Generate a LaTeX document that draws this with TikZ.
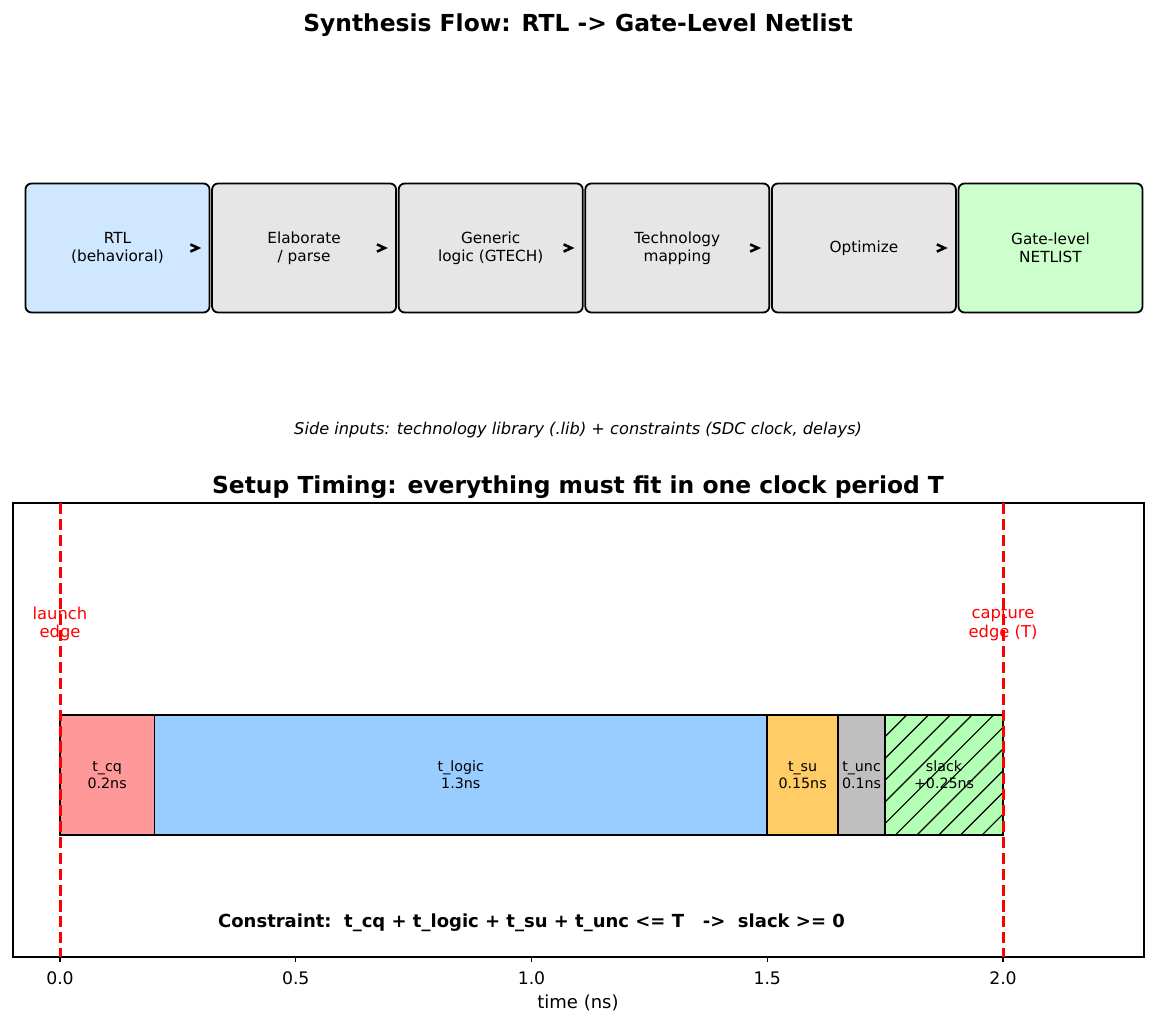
\documentclass[tikz,border=0pt]{standalone}
\usepackage{fontspec}
\setmainfont{DejaVu Sans}[BoldFont={DejaVu Sans Bold},ItalicFont={DejaVu Sans Oblique},BoldItalicFont={DejaVu Sans Bold Oblique}]
\usetikzlibrary{arrows.meta,calc}
\definecolor{rtlblue}{HTML}{D0E8FF}
\definecolor{stepgray}{HTML}{E6E6E6}
\definecolor{netgreen}{HTML}{CCFFCC}
\definecolor{cqred}{HTML}{FF9999}
\definecolor{logicblue}{HTML}{99CCFF}
\definecolor{suorange}{HTML}{FFCC66}
\definecolor{uncgray}{HTML}{BFBFBF}
\definecolor{slackgreen}{HTML}{B3FFB3}
\tikzset{
  flowbox/.style={draw, line width=1.2pt, rounded corners=4pt, minimum width=122.7pt, minimum height=86pt, inner sep=0pt, align=center, font=\fontsize{10.2}{12.2}\selectfont},
  chevron/.style={line width=1.7pt, miter limit=4, line join=miter},
  seg/.style={draw, line width=1pt, minimum height=80pt, inner sep=0pt, align=center, font=\fontsize{9.5}{11.4}\selectfont},
  edgeline/.style={draw=red, line width=2pt, dash pattern=on 7.4pt off 3.2pt},
  edgelabel/.style={text=red, align=center, font=\fontsize{10.9}{12.4}\selectfont},
  ticklabel/.style={font=\fontsize{11.5}{13}\selectfont},
}
\begin{document}
\begin{tikzpicture}[x=0.6667pt,y=-0.6667pt]
\useasboundingbox[fill=white] (0,0) rectangle (1156,1026);
% top title
\node[font=\fontsize{15.6}{18}\bfseries] (title1) at (578,25) {Synthesis Flow: RTL -> Gate-Level Netlist};
% flow boxes
\node[flowbox, fill=rtlblue]  (b1) at (117.5,248) {RTL\\(behavioral)};
\node[flowbox, fill=stepgray] (b2) at (304.1,248) {Elaborate\\/ parse};
\node[flowbox, fill=stepgray] (b3) at (490.7,248) {Generic\\logic (GTECH)};
\node[flowbox, fill=stepgray] (b4) at (677.3,248) {Technology\\mapping};
\node[flowbox, fill=stepgray] (b5) at (863.9,248) {Optimize};
\node[flowbox, fill=netgreen] (b6) at (1050.5,248) {Gate-level\\NETLIST};
\foreach \a in {b1,b2,b3,b4,b5}{
  \draw[chevron] ($(\a.east)+(-20,-3.6)$) -- ($(\a.east)+(-12.2,0)$) -- ($(\a.east)+(-20,3.6)$);
}
\node[font=\fontsize{10.8}{12}\itshape] (side) at (578,430) {Side inputs: technology library (.lib) + constraints (SDC clock, delays)};
% timing part
\node[font=\fontsize{15.6}{18}\bfseries] (title2) at (578,487) {Setup Timing: everything must fit in one clock period T};
\draw[line width=0.8pt] (13,503) rectangle (1144,957);
\node[seg, fill=cqred, minimum width=62.87pt] (tcq) at (107.15,775) {t\_cq\\0.2ns};
\node[seg, fill=logicblue, minimum width=408.63pt] (tlogic) at (460.78,775) {t\_logic\\1.3ns};
\node[seg, fill=suorange, minimum width=47.15pt] (tsu) at (802.61,775) {t\_su\\0.15ns};
\node[seg, fill=uncgray, minimum width=31.43pt] (tunc) at (861.55,775) {t\_unc\\0.1ns};
\node[seg, fill=slackgreen, minimum width=78.58pt,
  path picture={
    \foreach \k in {0,...,11}{
      \draw[line width=0.8pt] ($(path picture bounding box.north west)+({21.7*\k+10},-10)$) -- ++(-180,180);
    }
  }] (slack) at (944.06,775) {slack\\+0.25ns};
% clock edges
\draw[edgeline] (60,503) -- (60,957);
\draw[edgeline] (1003,503) -- (1003,957);
\node[edgelabel] (launch) at (60,624) {launch\\edge};
\node[edgelabel] (capture) at (1003,624) {capture\\edge (T)};
\node[font=\fontsize{12}{14}\bfseries] (constraint) at (531.5,922.5) {Constraint:\ \ t\_cq + t\_logic + t\_su + t\_unc <= T\ \ \ ->\ \ slack >= 0};
% axis
\foreach \t/\l in {0/0.0,0.5/0.5,1/1.0,1.5/1.5,2/2.0}{
  \draw[line width=0.8pt] ({60+471.5*\t},957) -- ++(0,5.25);
  \node[ticklabel] at ({60+471.5*\t},978) {\l};
}
\node[font=\fontsize{12}{14}\selectfont] (xlabel) at (578,1003) {time (ns)};
\end{tikzpicture}
\end{document}
